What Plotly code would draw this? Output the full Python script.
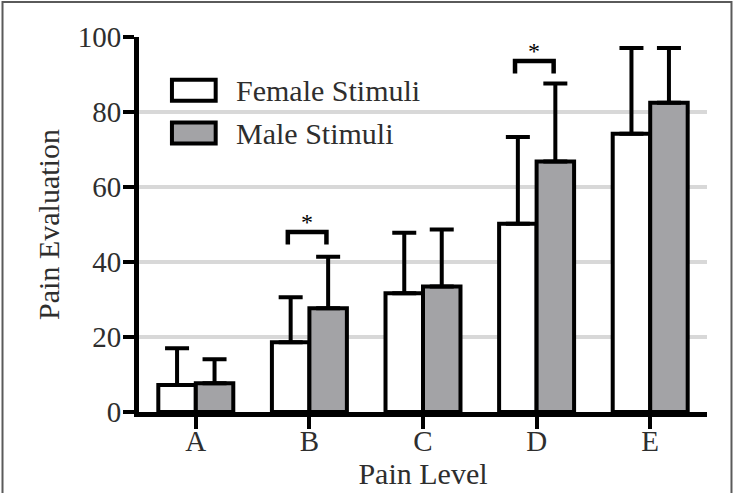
import plotly.graph_objects as go

categories = ["A", "B", "C", "D", "E"]
female_mean = [7.2, 18.6, 31.7, 50.2, 74.2]
female_err = [9.8, 12.0, 16.1, 23.1, 22.9]
male_mean = [7.7, 27.7, 33.5, 66.8, 82.5]
male_err = [6.4, 13.7, 15.2, 20.8, 14.6]
series_names = ["Female Stimuli", "Male Stimuli"]
y_ticks = [0, 20, 40, 60, 80, 100]

# significance brackets
sig_categories = ["B", "D"]
sig_heights = [48.0, 93.6]

FONT = "Liberation Serif, Times New Roman, DejaVu Serif, serif"
TXT = "#2e2e2e"
GREY = "#a3a3a6"

fig = go.Figure()
fig.add_trace(go.Bar(
    x=categories, y=female_mean, name=series_names[0],
    marker=dict(color="white", line=dict(color="black", width=4)),
    error_y=dict(type="data", array=female_err, arrayminus=[0] * len(female_err),
                 symmetric=False, color="black", thickness=4, width=12),
    showlegend=False,
))
fig.add_trace(go.Bar(
    x=categories, y=male_mean, name=series_names[1],
    marker=dict(color=GREY, line=dict(color="black", width=4)),
    error_y=dict(type="data", array=male_err, arrayminus=[0] * len(male_err),
                 symmetric=False, color="black", thickness=4, width=12),
    showlegend=False,
))

shapes = []
annotations = []
for cat, h in zip(sig_categories, sig_heights):
    i = categories.index(cat)
    x0, x1 = i - 0.19, i + 0.15
    shapes.append(dict(type="path", xref="x", yref="y",
                       path=f"M {x0},{h-3.3} L {x0},{h} L {x1},{h} L {x1},{h-3.3}",
                       line=dict(color="black", width=4.5)))
    annotations.append(dict(x=i - 0.02, y=h + 2.8, xref="x", yref="y", text="*",
                            showarrow=False, font=dict(family=FONT, size=24, color="black")))

# legend (drawn manually to match big swatches)
legend_fills = ["white", GREY]
legend_y = [(0.886, 0.830), (0.772, 0.716)]
for fill, (ya, yb), name in zip(legend_fills, legend_y, series_names):
    shapes.append(dict(type="rect", xref="paper", yref="paper",
                       x0=0.058, x1=0.135, y0=yb, y1=ya,
                       fillcolor=fill, line=dict(color="black", width=4)))
    annotations.append(dict(x=0.168, y=(ya + yb) / 2, xref="paper", yref="paper",
                            text=name, showarrow=False, xanchor="left", yanchor="middle",
                            font=dict(family=FONT, size=30, color=TXT)))

# outer frame
shapes.append(dict(type="rect", xref="paper", yref="paper",
                   x0=-0.2403, x1=1.0431, y0=-0.40, y1=1.0933,
                   line=dict(color="#5a5a5a", width=2), layer="below"))

fig.update_layout(
    width=741, height=493,
    margin=dict(l=139, r=34, t=37, b=81, autoexpand=False),
    paper_bgcolor="white", plot_bgcolor="white",
    barmode="group", bargap=0.34, bargroupgap=0,
    shapes=shapes, annotations=annotations,
    font=dict(family=FONT, color=TXT),
)
fig.update_xaxes(
    showline=True, linecolor="black", linewidth=5,
    ticks="outside", ticklen=12, tickwidth=4, tickcolor="black",
    tickfont=dict(family=FONT, size=29, color=TXT), ticklabelstandoff=-13,
    title=dict(text="Pain Level", font=dict(family=FONT, size=30, color=TXT), standoff=9),
    showgrid=False, zeroline=False, automargin=False,
)
fig.update_yaxes(
    range=[0, 100], tickvals=y_ticks,
    showline=True, linecolor="black", linewidth=5,
    ticks="outside", ticklen=11, tickwidth=4, tickcolor="black",
    tickfont=dict(family=FONT, size=29, color=TXT), ticklabelstandoff=-4,
    title=dict(text="Pain Evaluation", font=dict(family=FONT, size=30, color=TXT), standoff=11),
    showgrid=True, gridcolor="#d8d8d8", gridwidth=4, zeroline=False, automargin=False,
)

fig.write_html("out.html")
